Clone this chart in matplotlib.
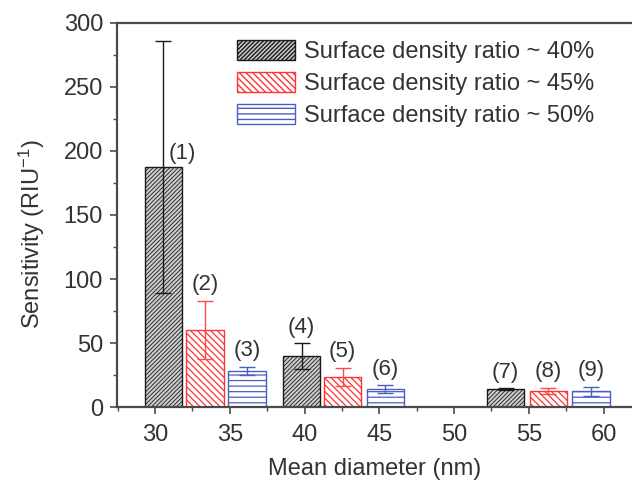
import matplotlib
matplotlib.use("Agg")
import matplotlib.pyplot as plt
from matplotlib.ticker import MultipleLocator

plt.rcParams['font.family'] = ['Liberation Sans', 'DejaVu Sans']
plt.rcParams['mathtext.fontset'] = 'custom'
plt.rcParams['mathtext.rm'] = 'Liberation Sans'
plt.rcParams['mathtext.it'] = 'Liberation Sans:italic'
plt.rcParams['mathtext.bf'] = 'Liberation Sans:bold'

# ---- data ----
series_labels = ["Surface density ratio ~ 40%",
                 "Surface density ratio ~ 45%",
                 "Surface density ratio ~ 50%"]
diam_40 = [30.55, 39.8, 53.45]
diam_45 = [33.35, 42.55, 56.3]
diam_50 = [36.15, 45.4, 59.15]
sens_40 = [187.5, 40.0, 14.0]
sens_45 = [60.5, 24.0, 13.0]
sens_50 = [28.5, 14.3, 12.5]
err_40 = [98.5, 10.0, 0.8]
err_45 = [22.5, 7.0, 2.4]
err_50 = [3.2, 2.8, 3.3]
bar_ids_40 = ["(1)", "(4)", "(7)"]
bar_ids_45 = ["(2)", "(5)", "(8)"]
bar_ids_50 = ["(3)", "(6)", "(9)"]
xticks = [30, 35, 40, 45, 50, 55, 60]
yticks = [0, 50, 100, 150, 200, 250, 300]

W, H = 632, 483
fig = plt.figure(figsize=(W / 100, H / 100), dpi=100)
ax = fig.add_axes([117 / W, 75.7 / H, 1 - 117 / W, (407.3 - 22.7) / H])

txt = '#333333'
axcol = '#4a4a4a'
fs = 17
width = 2.5
styles = [
    dict(facecolor='#cccccc', edgecolor='#1a1a1a', hatch='////////', hlw=0.6, ecol='#1a1a1a'),
    dict(facecolor='white', edgecolor='#ff3333', hatch='\\\\\\\\\\', hlw=0.9, ecol='#ff4a4a'),
    dict(facecolor='white', edgecolor='#4a5fc1', hatch='---', hlw=0.9, ecol='#4a5fc1'),
]
data = [(diam_40, sens_40, err_40, bar_ids_40),
        (diam_45, sens_45, err_45, bar_ids_45),
        (diam_50, sens_50, err_50, bar_ids_50)]

for (xs, ys, es, ids), st, lab in zip(data, styles, series_labels):
    with plt.rc_context({'hatch.linewidth': st['hlw']}):
        bars = ax.bar(xs, ys, width=width, facecolor=st['facecolor'],
                      edgecolor=st['edgecolor'], hatch=st['hatch'], linewidth=1.0,
                      label=lab, zorder=2)
        for b in bars:
            if hasattr(b, 'set_hatch_linewidth'):
                b.set_hatch_linewidth(st['hlw'])
    ax.errorbar(xs, ys, yerr=es, fmt='none', ecolor=st['ecol'], elinewidth=1.0,
                capsize=5.8, capthick=1.0, zorder=3)
    for x, y, e, t in zip(xs, ys, es, ids):
        if t == "(1)":
            ax.annotate(t, (x, y), xytext=(14, 10), textcoords='offset points',
                        ha='center', va='center', fontsize=16, color=txt)
        else:
            ax.annotate(t, (x, y + e), xytext=(0, 4), textcoords='offset points',
                        ha='center', va='bottom', fontsize=16, color=txt)

ax.set_xlim(27.46, 61.9)
ax.set_ylim(0, 300)
ax.set_xticks(xticks)
ax.set_yticks(yticks)
ax.xaxis.set_minor_locator(MultipleLocator(2.5))
ax.yaxis.set_minor_locator(MultipleLocator(25))
ax.tick_params(axis='both', which='major', direction='out', length=5, width=1.2,
               pad=5, labelsize=fs, labelcolor=txt, color=axcol)
ax.tick_params(axis='x', which='major', pad=7)
ax.tick_params(axis='both', which='minor', direction='out', length=3, width=1.0,
               color=axcol)
for s in ['left', 'bottom', 'top']:
    ax.spines[s].set_linewidth(1.6)
    ax.spines[s].set_color(axcol)
ax.spines['right'].set_visible(False)
ax.tick_params(top=False, which='both')

ax.set_xlabel("Mean diameter (nm)", fontsize=fs, color=txt, labelpad=9)
ax.set_ylabel("Sensitivity (RIU$^{\\mathregular{-1}}$)", fontsize=fs, color=txt)
ax.yaxis.set_label_coords(-0.135, 0.45)

leg = ax.legend(loc='upper left', bbox_to_anchor=(236.7 / W, 1 - 40.0 / H),
                bbox_transform=fig.transFigure,
                frameon=False, fontsize=fs, handlelength=2.45, handleheight=0.95,
                labelspacing=0.36, handletextpad=0.42, borderaxespad=0, borderpad=0)
for t in leg.get_texts():
    t.set_color(txt)

fig.savefig("out.png", dpi=100)
